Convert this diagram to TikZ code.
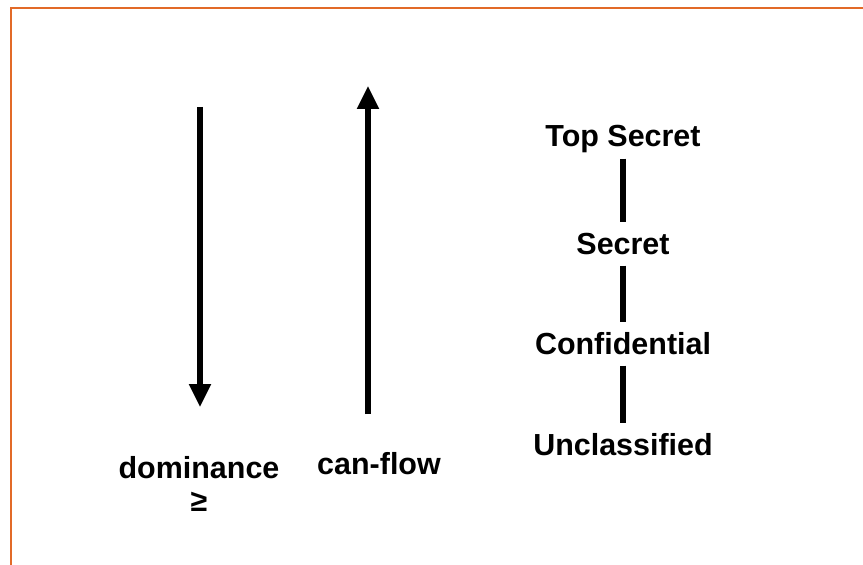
\documentclass[tikz,border=0pt]{standalone}
\usepackage{fontspec}
\setmainfont{Liberation Sans}
\usetikzlibrary{arrows.meta}
\definecolor{frameorange}{RGB}{226,106,40}
\tikzset{
  lbl/.style={font=\fontsize{26}{31}\selectfont\bfseries, inner sep=0pt,
    anchor=base, text height=18.6pt, text depth=5.5pt},
  rank/.style={line width=4.3pt, shorten <=4.3pt, shorten >=8.5pt},
  bigarrow/.style={line width=4.3pt, -{Triangle[width=17.9pt,length=19.6pt]}}
}
\begin{document}
\begin{tikzpicture}[x=0.03cm, y=-0.03cm]
  \useasboundingbox (0,0) rectangle (863,565);
  % frame
  \draw[frameorange, line width=1.7pt] (11,565) -- (11,8) -- (863,8);
  % dominance / can-flow arrows
  \coordinate (domtop) at (200,107);
  \coordinate (dombot) at (200,407);
  \coordinate (flowbot) at (368,414);
  \coordinate (flowtop) at (368,86);
  \draw[bigarrow] (domtop) -- (dombot);
  \draw[bigarrow] (flowbot) -- (flowtop);
  \node[lbl] (dom) at (199,478) {dominance};
  \node[lbl] (geq) at (199,511) {≥};
  \node[lbl] (flow) at (379,474) {can-flow};
  % security levels
  \node[lbl] (ts) at (623,147) {Top Secret};
  \node[lbl] (sec) at (623,254) {Secret};
  \node[lbl] (conf) at (623,354) {Confidential};
  \node[lbl] (unc) at (623,455) {Unclassified};
  \draw[rank] (ts) -- (sec);
  \draw[rank] (sec) -- (conf);
  \draw[rank] (conf) -- (unc);
\end{tikzpicture}
\end{document}
